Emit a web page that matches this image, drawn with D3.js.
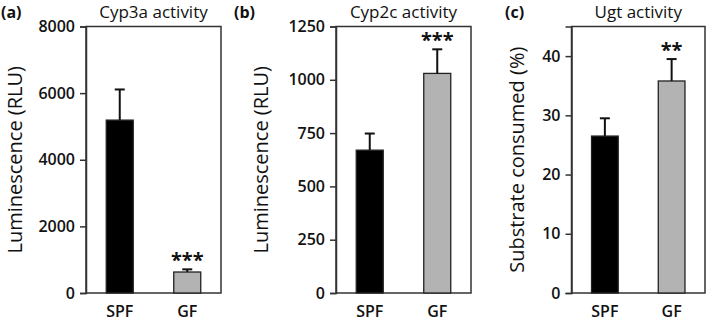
<!DOCTYPE html>
<html>
<head>
<meta charset="utf-8">
<script src="https://cdn.jsdelivr.net/npm/d3@7"></script>
<style>
  html, body { margin: 0; padding: 0; background: #fff; }
  svg { display: block; }
  text { font-family: "Open Sans", sans-serif; fill: #111; }
</style>
</head>
<body>
<svg id="chart" width="709" height="321"></svg>
<script>
// ---- data ----
const categories = ["SPF", "GF"];

const cyp3aMeans = [5190, 630];
const cyp3aErrors = [920, 80];
const cyp3aSig = ["", "***"];
const cyp3aTicks = [0, 2000, 4000, 6000, 8000];

const cyp2cMeans = [670, 1030];
const cyp2cErrors = [78, 113];
const cyp2cSig = ["", "***"];
const cyp2cTicks = [0, 250, 500, 750, 1000, 1250];

const ugtMeans = [26.5, 35.8];
const ugtErrors = [3.0, 3.7];
const ugtSig = ["", "**"];
const ugtTicks = [0, 10, 20, 30, 40];

const panelLetters = ["(a)", "(b)", "(c)"];
const panelTitles = ["Cyp3a activity", "Cyp2c activity", "Ugt activity"];
const yTitles = ["Luminescence (RLU)", "Luminescence (RLU)", "Substrate consumed (%)"];
const yMax = [8000, 1250, 45];

// ---- layout ----
const svg = d3.select("#chart");
const plotTop = 26.5, plotBottom = 293;
const layouts = [
  { left: 86, right: 221, letterX: 1, yLabelX: 22 },
  { left: 336, right: 471, letterX: 234, yLabelX: 267.5 },
  { left: 571.5, right: 705, letterX: 505, yLabelX: 523.5 }
];
const colors = ["#000000", "#b3b3b3"];

const panels = [
  { means: cyp3aMeans, errs: cyp3aErrors, sig: cyp3aSig, ticks: cyp3aTicks },
  { means: cyp2cMeans, errs: cyp2cErrors, sig: cyp2cSig, ticks: cyp2cTicks },
  { means: ugtMeans, errs: ugtErrors, sig: ugtSig, ticks: ugtTicks }
];

panels.forEach((p, i) => {
  const L = layouts[i];
  const g = svg.append("g");
  const x = d3.scaleBand().domain(categories).range([L.left, L.right])
    .paddingInner(0.6).paddingOuter(0.3);
  const y = d3.scaleLinear().domain([0, yMax[i]]).range([plotBottom, plotTop]);

  // frame
  g.append("rect")
    .attr("x", L.left).attr("y", plotTop)
    .attr("width", L.right - L.left).attr("height", plotBottom - plotTop)
    .attr("fill", "none").attr("stroke", "#333").attr("stroke-width", 1.5);

  // y axis
  const ya = g.append("g").attr("transform", `translate(${L.left},0)`)
    .call(d3.axisLeft(y).tickValues(p.ticks).tickSize(6).tickPadding(5).tickFormat(d3.format("d")));
  ya.select(".domain").attr("stroke", "#333").attr("stroke-width", 1.5);
  ya.selectAll(".tick line").attr("stroke", "#333").attr("stroke-width", 1.5);
  ya.selectAll(".tick text").attr("font-size", 16).attr("font-family", "Open Sans")
    .attr("font-weight", 600).attr("fill", "#111");

  // bars
  categories.forEach((c, j) => {
    g.append("rect")
      .attr("x", x(c)).attr("y", y(p.means[j]))
      .attr("width", x.bandwidth()).attr("height", y(0) - y(p.means[j]))
      .attr("fill", colors[j]).attr("stroke", "#222").attr("stroke-width", 1.3);
    const cx = x(c) + x.bandwidth() / 2;
    const yt = y(p.means[j] + p.errs[j]);
    g.append("line").attr("x1", cx).attr("x2", cx)
      .attr("y1", y(p.means[j])).attr("y2", yt)
      .attr("stroke", "#111").attr("stroke-width", 2);
    g.append("line").attr("x1", cx - 5).attr("x2", cx + 5)
      .attr("y1", yt).attr("y2", yt)
      .attr("stroke", "#111").attr("stroke-width", 2);
    if (p.sig[j]) {
      g.append("text").attr("x", cx).attr("y", yt - 2)
        .attr("text-anchor", "middle").attr("font-size", 20).attr("font-weight", 700)
        .text(p.sig[j]);
    }
    // x labels
    g.append("text").attr("x", cx).attr("y", 316.5)
      .attr("text-anchor", "middle").attr("font-size", 16).attr("font-weight", 600)
      .text(c);
  });

  // title
  g.append("text").attr("x", (L.left + L.right) / 2).attr("y", 18.2)
    .attr("text-anchor", "middle").attr("font-size", 17)
    .text(panelTitles[i]);
  // panel letter
  g.append("text").attr("x", L.letterX).attr("y", 17.5)
    .attr("font-size", 16).attr("font-weight", 700)
    .text(panelLetters[i]);
  // y label
  g.append("text")
    .attr("transform", `translate(${L.yLabelX},${(plotTop + plotBottom) / 2}) rotate(-90)`)
    .attr("text-anchor", "middle").attr("font-size", 20)
    .text(yTitles[i]);
});
</script>
</body>
</html>
